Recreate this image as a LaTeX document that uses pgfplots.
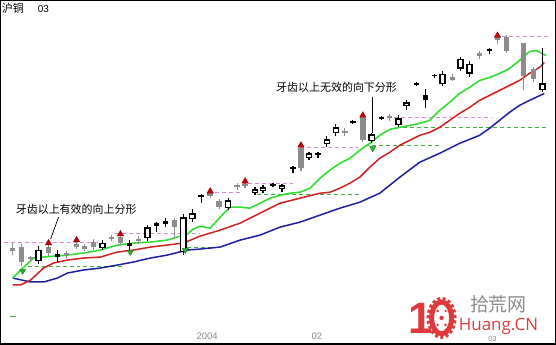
\documentclass[border=0pt]{standalone}
\usepackage{fontspec}
\setmainfont{Liberation Sans}
\newfontfamily\cjk{Noto Sans CJK SC}
\newfontfamily\opensans{Open Sans}
\usepackage{pgfplots}
\pgfplotsset{compat=1.18}
\usepackage{pgfplotstable}
\definecolor{maG}{HTML}{33DD33}
\definecolor{maR}{HTML}{CC2222}
\definecolor{maB}{HTML}{1E1EA0}
\definecolor{kgray}{HTML}{8C8C8C}
\definecolor{pinkd}{HTML}{D98CD9}
\definecolor{greend}{HTML}{3FAF3F}
\definecolor{wmred}{HTML}{E0393B}
\definecolor{wmgray}{HTML}{8A8A8A}

% gray (falling) candles: x, high, body top, body bottom, low (pixel rows)
\pgfplotstableread{
x hi top bot lo
12 243 247.5 250.5 255
21 244 247 262 266
30 256 257 259 261
48 244 247 253 256
66 251 253 255 258
76 242 244 247 249
84 244 246 248.5 251
93 239 242 247 250
111 235 237 239 241
120 236 237 243 245
138 236 239 241 244
174 218 220 227 238
210 192 193 196 198
219 199 201 207 209
237 183 185 187 190
245 183 183.5 186 188
301 148 148 168 171
345 128 131 133 136
363 117 117 140 142
390 114 116 118 121
453 73 76 79 81
480 50 52 55 58
498 37 37.5 39 43
507 34 36 50 52
524 42 42 75 90
534 66 68 78 82
}\tabG

% hollow (rising) candles
\pgfplotstableread{
x hi top bot lo
38 246 250 261 264
102 240 243 248 250
147 225 227 238 241
183 214 217 252 255
192 209 213 219 222
228 198 200 208 210
255 187 189 193 195
263 185 187 191 193
282 184 185 189 192
309 152 153 158 160
327 136 139 143.5 147
336 124 127 133 136
372 133 134 141 143
399 115 118 125 127
407 100 102 106 110
443 70 73 84 86
461 56 58 68 70
470 60 63 73 76
543 47 83 90 92
}\tabH

% small black candles
\pgfplotstableread{
x hi top bot lo
57 250 254 257 262
129 240 243 246 250
156 222 223 225.5 232
165 218 221 224 227
201 194 195 197 203
273 183 184 186 187
293 166 167 169 173
318 152 153 155 158
353 120 121 123 124
382 116 117 118.5 120
417 82 83 84.5 86
426 89 95 100 108
435 73 74 75.5 77
490 47 48 50 53
}\tabK

\begin{document}
\begin{tikzpicture}
\begin{axis}[
  width=556pt, height=344pt, scale only axis,
  xmin=0, xmax=556, ymin=0, ymax=344, y dir=reverse,
  axis line style={line width=1.4pt, black},
  ticks=none, clip=false,
]
% dashed support lines
\addplot[pinkd, line width=0.9pt, dash pattern=on 4pt off 3pt] coordinates {(3,242)(100,242)};
\addplot[pinkd, line width=0.9pt, dash pattern=on 4pt off 3pt] coordinates {(115,233)(200,233)};
\addplot[pinkd, line width=0.9pt, dash pattern=on 4pt off 3pt] coordinates {(208,192)(240,192)};
\addplot[pinkd, line width=0.9pt, dash pattern=on 4pt off 3pt] coordinates {(248,183)(293,183)};
\addplot[pinkd, line width=0.9pt, dash pattern=on 4pt off 3pt] coordinates {(300,147)(358,147)};
\addplot[pinkd, line width=0.9pt, dash pattern=on 4pt off 3pt] coordinates {(380,117)(493,117)};
\addplot[pinkd, line width=0.9pt, dash pattern=on 4pt off 3pt] coordinates {(503,36)(550,36)};
\addplot[greend, line width=0.9pt, dash pattern=on 4pt off 3pt] coordinates {(27,266)(123,266)};
\addplot[greend, line width=0.9pt, dash pattern=on 4pt off 3pt] coordinates {(180,247)(212,247)};
\addplot[greend, line width=0.9pt, dash pattern=on 4pt off 3pt] coordinates {(257,194)(360,194)};
\addplot[greend, line width=0.9pt, dash pattern=on 4pt off 3pt] coordinates {(365,145)(440,145)};
\addplot[greend, line width=0.9pt, dash pattern=on 4pt off 3pt] coordinates {(403,127)(547,127)};
\addplot[greend, line width=0.9pt] coordinates {(9,317)(15,317)};

% moving averages
\addplot[maB, line width=1.5pt] coordinates {(12,278)(30,282)(43,282)(57,278)(67,273)(83,270)(100,268)(117,265)(133,262)(150,258)(167,255)(187,250)(200,249)(220,247)(240,240)(260,235)(280,227)(300,222)(320,215)(340,208)(360,202)(380,193)(400,177)(420,162)(440,153)(460,143)(480,135)(490,128)(500,120)(510,112)(520,105)(530,100)(545,93)};
\addplot[maR, line width=1.5pt] coordinates {(12,285)(20,285)(30,280)(43,268)(53,263)(67,260)(83,258)(100,257)(117,252)(133,250)(150,247)(167,245)(183,243)(200,236)(220,230)(240,223)(260,213)(280,203)(300,198)(320,193)(330,192)(340,188)(350,183)(360,177)(370,167)(380,158)(390,152)(400,145)(410,140)(420,135)(430,132)(440,127)(450,120)(460,113)(470,107)(480,100)(490,95)(500,90)(510,85)(520,80)(530,73)(540,67)(545,62)};
\addplot[maG, line width=1.6pt] coordinates {(12,278)(20,270)(33,258)(43,257)(67,255)(83,253)(100,250)(117,245)(133,243)(150,242)(167,240)(180,236)(187,234)(193,229)(200,226)(210,228)(220,217)(230,207)(240,207)(250,208)(260,203)(270,198)(280,195)(290,193)(300,192)(310,188)(320,178)(330,170)(340,163)(350,158)(360,150)(370,143)(380,135)(390,129)(400,127)(410,125)(420,123)(430,120)(440,110)(450,102)(460,93)(470,87)(480,80)(490,77)(500,73)(510,68)(520,60)(530,51)(537,50)(543,53)(547,55)};

% candles: wicks
\addplot[draw=none, mark=none, error bars/.cd, y dir=both, y explicit, error mark=none,
  error bar style={draw=kgray, line width=1.2pt}]
  table[x=x, y expr={(\thisrow{hi}+\thisrow{lo})/2}, y error expr={(\thisrow{lo}-\thisrow{hi})/2}] {\tabG};
\addplot[draw=none, mark=none, error bars/.cd, y dir=both, y explicit, error mark=none,
  error bar style={draw=black, line width=1.2pt}]
  table[x=x, y expr={(\thisrow{hi}+\thisrow{lo})/2}, y error expr={(\thisrow{lo}-\thisrow{hi})/2}] {\tabH};
\addplot[draw=none, mark=none, error bars/.cd, y dir=both, y explicit, error mark=none,
  error bar style={draw=black, line width=1.2pt}]
  table[x=x, y expr={(\thisrow{hi}+\thisrow{lo})/2}, y error expr={(\thisrow{lo}-\thisrow{hi})/2}] {\tabK};
% candles: bodies
\addplot[draw=none, mark=none, error bars/.cd, y dir=both, y explicit, error mark=none,
  error bar style={draw=kgray, line width=5.5pt}]
  table[x=x, y expr={(\thisrow{top}+\thisrow{bot})/2}, y error expr={(\thisrow{bot}-\thisrow{top})/2}] {\tabG};
\addplot[draw=none, mark=none, error bars/.cd, y dir=both, y explicit, error mark=none,
  error bar style={draw=black, line width=5.5pt}]
  table[x=x, y expr={(\thisrow{top}+\thisrow{bot})/2}, y error expr={(\thisrow{bot}-\thisrow{top})/2}] {\tabK};
\addplot[draw=none, mark=none, error bars/.cd, y dir=both, y explicit, error mark=none,
  error bar style={draw=black, line width=6.6pt}]
  table[x=x, y expr={(\thisrow{top}+\thisrow{bot})/2}, y error expr={(\thisrow{bot}-\thisrow{top})/2}] {\tabH};
\addplot[draw=none, mark=none, error bars/.cd, y dir=both, y explicit, error mark=none,
  error bar style={draw=white, line width=3.6pt}]
  table[x=x, y expr={(\thisrow{top}+\thisrow{bot})/2}, y error expr={(\thisrow{bot}-\thisrow{top})/2-1.4}] {\tabH};

% fractal markers
\addplot[only marks, mark=triangle*, mark size=3.6pt, mark options={fill=red!80!black, draw=red!55!black, line width=0.5pt}]
  coordinates {(48,243)(76,240)(120,234)(210,191)(245,181)(301,145)(363,115)(498,35)};
\addplot[only marks, mark=triangle*, mark size=3.4pt, mark options={rotate=180, fill=maG!80!black, draw=maG!60!black, line width=0.5pt}]
  coordinates {(22,271)(130,252)(185,250)(373,148)};

% annotation leaders
\addplot[black, line width=0.7pt] coordinates {(58,217)(50,239)};
\addplot[black, line width=0.9pt] coordinates {(373,97)(373,133)};

% texts
\node[anchor=west, inner sep=0pt] at (axis cs:15,209) {\cjk\fontsize{11}{13}\selectfont 牙齿以上有效的向上分形};
\node[anchor=west, inner sep=0pt] at (axis cs:276,87) {\cjk\fontsize{11}{13}\selectfont 牙齿以上无效的向下分形};
\node[anchor=west, inner sep=0pt] at (axis cs:1,8) {\cjk\fontsize{11}{13}\selectfont 沪铜};
\node[anchor=west, inner sep=0pt] at (axis cs:37,8) {\fontsize{10}{12}\selectfont 03};
\node[inner sep=0pt, text=wmgray] at (axis cs:207,336) {\fontsize{9.5}{11}\selectfont 2004};
\node[inner sep=0pt, text=wmgray] at (axis cs:317,336) {\fontsize{9.5}{11}\selectfont 02};

% watermark
\node[inner sep=0pt, text=wmred, anchor=base] at (axis cs:421,334) {\fontsize{44}{44}\selectfont\bfseries 1};
\draw[wmred, line width=5pt] (axis cs:442,318) ellipse [x radius=10pt, y radius=16pt];
\draw[wmred, line width=3pt, dash pattern=on 3pt off 2.5pt] (axis cs:442,318) ellipse [x radius=13.5pt, y radius=19.5pt];
\fill[wmred] (axis cs:442,318) circle [radius=2.2pt];
\fill[wmred] (axis cs:438,311) circle [radius=1.5pt];
\fill[wmred] (axis cs:446,325) circle [radius=1.5pt];
\fill[wmred] (axis cs:446,311) circle [radius=1.3pt];
\fill[wmred] (axis cs:438,325) circle [radius=1.3pt];
\node[inner sep=0pt, text=wmgray] at (axis cs:499,304) {\cjk\fontsize{19}{21}\selectfont 拾荒网};
\node[inner sep=0pt, text=wmred] at (axis cs:499,327) {\opensans\fontsize{17}{19}\selectfont Huang.CN};
\node[inner sep=0pt, text=wmgray] at (axis cs:493,339) {\fontsize{7.5}{8}\selectfont 03};
\end{axis}
\end{tikzpicture}
\end{document}
